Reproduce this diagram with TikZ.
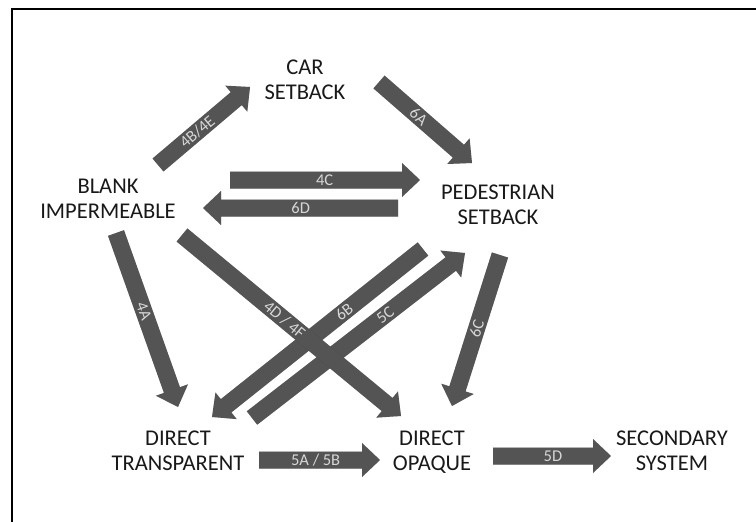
\documentclass[tikz,border=0pt]{standalone}
\usepackage{fontspec}
\setmainfont{Carlito}
\usetikzlibrary{calc}
\definecolor{arrowfill}{RGB}{84,84,84}
\definecolor{labtext}{RGB}{214,214,214}
\definecolor{nodetext}{RGB}{25,25,25}
\tikzset{
  stage/.style={align=center, text=nodetext, font=\fontsize{22.5}{25}\selectfont, inner sep=0pt},
  arrlab/.style={sloped, text=labtext, font=\fontsize{16.5}{16.5}\selectfont, inner sep=0pt},
  arrbody/.style={fill=arrowfill},
  arrshadow/.style={fill=black, opacity=0.22}
}
% optional fill style, tail coordinate, tip coordinate
\newcommand{\blockarrowpoly}[3][]{%
  \coordinate (hb) at ($(#3)!18pt!(#2)$);
  \fill[#1] ($(#2)!8.5pt!90:(#3)$) -- ($(hb)!8.5pt!-90:(#2)$) -- ($(hb)!17pt!-90:(#2)$) -- (#3)
     -- ($(hb)!17pt!90:(#2)$) -- ($(hb)!8.5pt!90:(#2)$) -- ($(#2)!8.5pt!-90:(#3)$) -- cycle;
}
% label pos, tail coordinate, tip coordinate, label
\newcommand{\blockarrow}[4][0.5]{%
  \begin{scope}[xshift=1.6pt, yshift=-1.6pt]
    \blockarrowpoly[arrshadow]{#2}{#3}
  \end{scope}
  \blockarrowpoly[arrbody]{#2}{#3}
  \path (#2) -- (hb) node[pos=#1, arrlab] {#4};
}
\begin{document}
\begin{tikzpicture}[x=1pt, y=-1pt]
  \useasboundingbox (0,0) rectangle (756,522);
  \fill[white] (0,0) rectangle (756,522);
  \draw[line width=1.6pt] (12,522) -- (12,9) -- (756,9);

  \node[stage] (car) at (305,80) {CAR\\SETBACK};
  \node[stage] (blank) at (108,199) {BLANK\\IMPERMEABLE};
  \node[stage] (ped) at (498,205) {PEDESTRIAN\\SETBACK};
  \node[stage] (dt) at (178,451) {DIRECT\\TRANSPARENT};
  \node[stage] (dop) at (432,452.5) {DIRECT\\OPAQUE};
  \node[stage] (sec) at (672,451) {SECONDARY\\SYSTEM};

  \coordinate (a4bes) at (158,165);  \coordinate (a4bet) at (250,87);
  \coordinate (a6as)  at (379,82);   \coordinate (a6at)  at (472,163);
  \coordinate (a4cs)  at (230,180);  \coordinate (a4ct)  at (420,180);
  \coordinate (a6ds)  at (398,208);  \coordinate (a6dt)  at (203,208);
  \coordinate (a4as)  at (116,233);  \coordinate (a4at)  at (178,407);
  \coordinate (a4dfs) at (182,235);  \coordinate (a4dft) at (401,416);
  \coordinate (a6bs)  at (423,249);  \coordinate (a6bt)  at (212,417);
  \coordinate (a5cs)  at (252,418);  \coordinate (a5ct)  at (465,253);
  \coordinate (a6cs)  at (500,255);  \coordinate (a6ct)  at (452,406);
  \coordinate (a5abs) at (259,460);  \coordinate (a5abt) at (380,460);
  \coordinate (a5ds)  at (493,456);  \coordinate (a5dt)  at (611,456);

  \blockarrow[0.5]{a4bes}{a4bet}{4B/4E}
  \blockarrow[0.5]{a6as}{a6at}{6A}
  \blockarrow[0.55]{a4cs}{a4ct}{4C}
  \blockarrow[0.55]{a6ds}{a6dt}{6D}
  \blockarrow[0.5]{a4as}{a4at}{4A}
  \blockarrow[0.4]{a6bs}{a6bt}{6B}
  \blockarrow[0.67]{a5cs}{a5ct}{5C}
  \blockarrow[0.55]{a6cs}{a6ct}{6C}
  \blockarrow[0.5]{a4dfs}{a4dft}{4D / 4F}
  \blockarrow[0.55]{a5abs}{a5abt}{5A / 5B}
  \blockarrow[0.6]{a5ds}{a5dt}{5D}
\end{tikzpicture}
\end{document}
